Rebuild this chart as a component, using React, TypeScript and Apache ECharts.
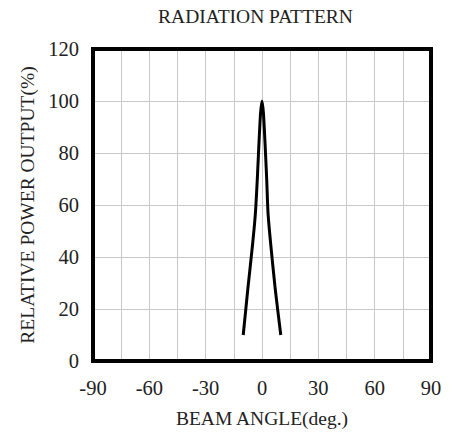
import React, { useEffect, useRef } from "react";
import * as echarts from "echarts";

const titleText = "RADIATION PATTERN";
const xAxisName = "BEAM ANGLE(deg.)";
const yAxisName = "RELATIVE POWER OUTPUT(%)";
const beamAngles = [-10, -7.5, -5, -3.5, -2.5, -1.6, -0.8, 0, 0.8, 1.6, 2.5, 3.2, 4.5, 7, 10];
const powerValues = [10, 28, 45, 57, 70, 84, 95, 100, 95, 84, 70, 57, 46, 28, 10];

const FONT = "'Liberation Serif', 'DejaVu Serif', serif";

export default function App() {
  const ref = useRef<HTMLDivElement>(null);
  useEffect(() => {
    if (!ref.current) return;
    const chart = echarts.init(ref.current, undefined, { renderer: "svg" });
    const data = beamAngles.map((a, i) => [a, powerValues[i]]);
    chart.setOption({
      animation: false,
      backgroundColor: "#fff",
      graphic: [
        {
          type: "text",
          x: 255.5,
          y: 16,
          style: {
            text: titleText,
            fontFamily: FONT,
            fontSize: 19.5,
            fill: "#222",
            textAlign: "center",
            textVerticalAlign: "middle",
          },
        },
      ],
      grid: {
        left: 93,
        right: 18,
        top: 49,
        bottom: 72,
        show: true,
        borderWidth: 4,
        borderColor: "#000",
        backgroundColor: "transparent",
        z: 10,
      },
      xAxis: {
        type: "value",
        min: -90,
        max: 90,
        interval: 15,
        name: xAxisName,
        nameLocation: "middle",
        nameGap: 47,
        nameTextStyle: { fontFamily: FONT, fontSize: 19.5, color: "#222" },
        axisLine: { show: false },
        axisTick: { show: false },
        axisLabel: {
          margin: 16,
          fontFamily: FONT,
          fontSize: 20.5,
          color: "#222",
          formatter: (v: number) => (v % 30 === 0 ? String(v) : ""),
        },
        splitLine: { show: true, lineStyle: { color: "#c8c8c8", width: 1 } },
      },
      yAxis: {
        type: "value",
        min: 0,
        max: 120,
        interval: 20,
        name: yAxisName,
        nameLocation: "middle",
        nameRotate: 90,
        nameGap: 54,
        nameTextStyle: { fontFamily: FONT, fontSize: 19.5, color: "#222" },
        axisLine: { show: false },
        axisTick: { show: false },
        axisLabel: { margin: 14, fontFamily: FONT, fontSize: 20.5, color: "#222" },
        splitLine: { show: true, lineStyle: { color: "#c8c8c8", width: 1 } },
      },
      series: [
        {
          type: "line",
          data,
          smooth: 0.2,
          showSymbol: false,
          lineStyle: { color: "#000", width: 3 },
        },
      ],
    });
    return () => chart.dispose();
  }, []);
  return (
    <div
      ref={ref}
      style={{ position: "absolute", left: 0, top: 0, width: 449, height: 433 }}
    />
  );
}
